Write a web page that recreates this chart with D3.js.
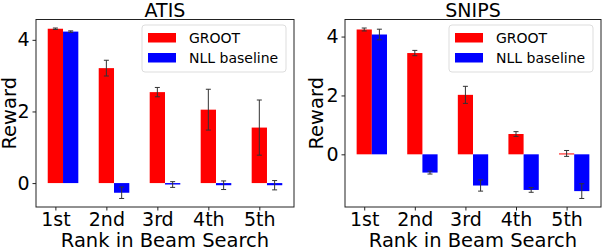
<!doctype html>
<html>
  <head>
    <script src="https://cdnjs.cloudflare.com/ajax/libs/d3/7.8.5/d3.min.js"></script>
    <style>
      body { margin: 0; background: #fff; }
      svg { font-family: "DejaVu Sans", sans-serif; }
      .spine { fill: none; stroke: #222; stroke-width: 1; }
      .err { stroke: #333; stroke-width: 1; }
      .legend-box { fill: #fff; stroke: #ddd; stroke-width: 1; }
    </style>
  </head>
  <body>
    <script>
      var categories = ["1st", "2nd", "3rd", "4th", "5th"];

      var atisGroot    = [4.31, 3.21, 2.54, 2.05, 1.55];
      var atisGrootErr = [0.02, 0.22, 0.13, 0.57, 0.77];
      var atisNll      = [4.23, -0.27, -0.04, -0.06, -0.06];
      var atisNllErr   = [0.02, 0.16, 0.08, 0.12, 0.13];

      var snipsGroot    = [4.24, 3.44, 2.02, 0.69, 0.03];
      var snipsGrootErr = [0.05, 0.09, 0.29, 0.08, 0.10];
      var snipsNll      = [4.07, -0.62, -1.06, -1.21, -1.25];
      var snipsNllErr   = [0.18, 0.05, 0.19, 0.08, 0.25];

      var yTicks = [0, 2, 4];
      var seriesNames = ["GROOT", "NLL baseline"];
      var colors = ["#ff0000", "#0000ff"];

      var barW = 0.3;

      var svg = d3.select("body").append("svg")
          .attr("width", 602)
          .attr("height", 250);

      function drawPanel(opt) {
        var left = opt.left, right = opt.right, top = 19.5, bottom = 207;
        var g = svg.append("g");

        // x limits like matplotlib auto margins
        var x0 = -barW / 2, x1 = categories.length - 1 + barW * 1.5;
        var xpad = (x1 - x0) * 0.05;
        var x = d3.scaleLinear().domain([x0 - xpad, x1 + xpad]).range([left, right]);

        var lo = d3.min(opt.groot.map((v, i) => v - opt.grootErr[i]).concat(opt.nll.map((v, i) => v - opt.nllErr[i])));
        var hi = d3.max(opt.groot.map((v, i) => v + opt.grootErr[i]).concat(opt.nll.map((v, i) => v + opt.nllErr[i])));
        var ypad = (hi - lo) * 0.05;
        var y = d3.scaleLinear().domain([lo - ypad, hi + ypad]).range([bottom, top]);

        var series = [
          { vals: opt.groot, errs: opt.grootErr, off: 0, color: colors[0] },
          { vals: opt.nll, errs: opt.nllErr, off: barW, color: colors[1] }
        ];

        series.forEach(function(s) {
          g.selectAll(null)
            .data(s.vals)
            .enter()
            .append("rect")
              .attr("x", (d, i) => x(i + s.off - barW / 2))
              .attr("width", x(barW) - x(0))
              .attr("y", d => y(Math.max(0, d)))
              .attr("height", d => Math.max(1, Math.abs(y(d) - y(0))))
              .attr("fill", s.color);
        });

        series.forEach(function(s) {
          s.vals.forEach(function(v, i) {
            var cx = x(i + s.off);
            var e = s.errs[i];
            g.append("line").attr("class", "err")
              .attr("x1", cx).attr("x2", cx)
              .attr("y1", y(v - e)).attr("y2", y(v + e));
            [v - e, v + e].forEach(function(c) {
              g.append("line").attr("class", "err")
                .attr("x1", cx - 2.5).attr("x2", cx + 2.5)
                .attr("y1", y(c)).attr("y2", y(c));
            });
          });
        });

        g.append("rect").attr("class", "spine")
          .attr("x", left).attr("y", top)
          .attr("width", right - left).attr("height", bottom - top);

        var xAxis = d3.axisBottom(x)
          .tickValues(d3.range(categories.length))
          .tickFormat(i => categories[i])
          .tickSize(3.5).tickPadding(2);
        var xg = g.append("g").attr("transform", "translate(0," + bottom + ")").call(xAxis);
        xg.select(".domain").remove();
        xg.selectAll("text").attr("font-size", 19).attr("fill", "#000").attr("font-family", "DejaVu Sans");
        xg.selectAll("line").attr("stroke", "#222");

        var yAxis = d3.axisLeft(y).tickValues(yTicks).tickFormat(d3.format("d"))
          .tickSize(3.5).tickPadding(3);
        var yg = g.append("g").attr("transform", "translate(" + left + ",0)").call(yAxis);
        yg.select(".domain").remove();
        yg.selectAll("text").attr("font-size", 19).attr("fill", "#000").attr("font-family", "DejaVu Sans");
        yg.selectAll("line").attr("stroke", "#222");

        g.append("text")
          .attr("x", (left + right) / 2).attr("y", 17)
          .attr("text-anchor", "middle")
          .attr("font-size", 19)
          .text(opt.title);

        g.append("text")
          .attr("x", (left + right) / 2).attr("y", 246.5)
          .attr("text-anchor", "middle")
          .attr("font-size", 19.5)
          .text("Rank in Beam Search");

        g.append("text")
          .attr("transform", "translate(" + (opt.ylabelX) + "," + ((top + bottom) / 2) + ") rotate(-90)")
          .attr("text-anchor", "middle")
          .attr("font-size", 19.5)
          .text("Reward");

        // legend
        var lg = g.append("g").attr("transform", "translate(" + (right - 152) + ",25)");
        lg.append("rect").attr("class", "legend-box")
          .attr("x", 0).attr("y", 0).attr("width", 144).attr("height", 47).attr("rx", 3);
        seriesNames.forEach(function(name, i) {
          lg.append("rect")
            .attr("x", 6).attr("y", 8 + i * 20)
            .attr("width", 28).attr("height", 9.5)
            .attr("fill", colors[i]);
          lg.append("text")
            .attr("x", 47).attr("y", 17.5 + i * 20)
            .attr("font-size", 14)
            .text(name);
        });
      }

      drawPanel({ title: "ATIS", left: 36, right: 294, ylabelX: 16,
                  groot: atisGroot, grootErr: atisGrootErr, nll: atisNll, nllErr: atisNllErr });
      drawPanel({ title: "SNIPS", left: 345, right: 601, ylabelX: 323,
                  groot: snipsGroot, grootErr: snipsGrootErr, nll: snipsNll, nllErr: snipsNllErr });
    </script>
  </body>
</html>
